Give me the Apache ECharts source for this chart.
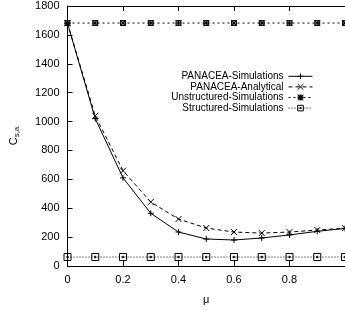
<!DOCTYPE html>
<html>
<head>
<meta charset="utf-8">
<script src="https://cdn.jsdelivr.net/npm/echarts@6/dist/echarts.min.js"></script>
<style>
html,body{margin:0;padding:0;background:#fff;}
#chart{width:345px;height:310px;}
</style>
</head>
<body>
<div id="chart"></div>
<script>
var mu = [0, 0.1, 0.2, 0.3, 0.4, 0.5, 0.6, 0.7, 0.8, 0.9, 1.0];
var panaceaSim = [1680, 1020, 610, 365, 235, 187, 180, 194, 215, 240, 260];
var panaceaAna = [1680, 1040, 660, 443, 325, 263, 235, 228, 235, 249, 262];
var unstructuredSim = [1682, 1682, 1682, 1682, 1682, 1682, 1682, 1682, 1682, 1682, 1682];
var structuredSim = [62, 62, 62, 62, 62, 62, 62, 62, 62, 62, 62];
var seriesNames = ['PANACEA-Simulations', 'PANACEA-Analytical', 'Unstructured-Simulations', 'Structured-Simulations'];

function pairs(ys){
    return mu.map(function(x, i){ return [x, ys[i]]; });
}

var plusSym = 'path://M0,5L10,5M5,0L5,10';
var crossSym = 'path://M0,0L10,10M10,0L0,10';
var starSym = 'path://M0,0L10,10M10,0L0,10M0,5L10,5M5,0L5,10M1,1L9,1L9,9L1,9Z';
var boxSym = 'path://M0,0L10,0L10,10L0,10ZM4,4L6,4L6,6L4,6Z';

var myChart = echarts.init(document.getElementById('chart'));
var fontFam = '"Liberation Sans", Arial, sans-serif';
var option = {
    animation: false,
    backgroundColor: '#fff',
    textStyle: {fontFamily: fontFam},
    grid: {left: 65, right: -3, top: 6, bottom: 44},
    legend: {
        orient: 'vertical',
        right: 27,
        top: 66,
        align: 'right',
        itemWidth: 24,
        itemHeight: 7,
        itemGap: 0,
        lineStyle: {width: 1},
        itemStyle: {borderWidth: 1},
        textStyle: {fontSize: 10, color: '#000', fontFamily: fontFam, padding: [0, 0, 0, 0]},
        data: seriesNames
    },
    xAxis: [{
        type: 'value',
        min: 0,
        max: 1,
        interval: 0.2,
        name: 'μ',
        nameLocation: 'middle',
        nameGap: 28,
        nameTextStyle: {fontSize: 11, color: '#000'},
        axisLine: {lineStyle: {color: '#000', width: 1}},
        axisTick: {inside: true, length: 5, lineStyle: {color: '#000'}},
        axisLabel: {color: '#000', fontSize: 11, margin: 8, showMaxLabel: false},
        splitLine: {show: false}
    }, {
        type: 'value',
        position: 'top',
        min: 0,
        max: 1,
        interval: 0.2,
        axisLine: {lineStyle: {color: '#000', width: 1}},
        axisTick: {inside: true, length: 5, lineStyle: {color: '#000'}},
        axisLabel: {show: false},
        splitLine: {show: false}
    }],
    yAxis: {
        type: 'value',
        min: 0,
        max: 1800,
        interval: 200,
        name: '{a|C}{b|s,a}',
        nameLocation: 'middle',
        nameGap: 47,
        nameTextStyle: {
            color: '#000',
            rich: {
                a: {fontSize: 11, color: '#000'},
                b: {fontSize: 8, color: '#000', verticalAlign: 'bottom', padding: [6, 0, 0, 0]}
            }
        },
        axisLine: {show: true, lineStyle: {color: '#000', width: 1}},
        axisTick: {inside: true, length: 5, lineStyle: {color: '#000'}},
        axisLabel: {color: '#000', fontSize: 11, margin: 8, formatter: function(v){ return String(v); }},
        splitLine: {show: false}
    },
    series: [
        {
            name: seriesNames[0],
            type: 'line',
            data: pairs(panaceaSim),
            symbol: plusSym,
            symbolSize: 6,
            itemStyle: {color: 'none', borderColor: '#000', borderWidth: 1},
            lineStyle: {color: '#000', width: 1, type: 'solid'}
        },
        {
            name: seriesNames[1],
            type: 'line',
            data: pairs(panaceaAna),
            symbol: crossSym,
            symbolSize: 6,
            itemStyle: {color: 'none', borderColor: '#000', borderWidth: 1},
            lineStyle: {color: '#000', width: 1, type: [4, 3]}
        },
        {
            name: seriesNames[2],
            type: 'line',
            data: pairs(unstructuredSim),
            symbol: starSym,
            symbolSize: 6,
            itemStyle: {color: 'none', borderColor: '#000', borderWidth: 1},
            lineStyle: {color: '#000', width: 1, type: [2, 3]}
        },
        {
            name: seriesNames[3],
            type: 'line',
            data: pairs(structuredSim),
            symbol: boxSym,
            symbolSize: 7,
            itemStyle: {color: 'none', borderColor: '#000', borderWidth: 1},
            lineStyle: {color: '#000', width: 1, type: [1, 2]}
        }
    ]
};
myChart.setOption(option);
</script>
</body>
</html>
